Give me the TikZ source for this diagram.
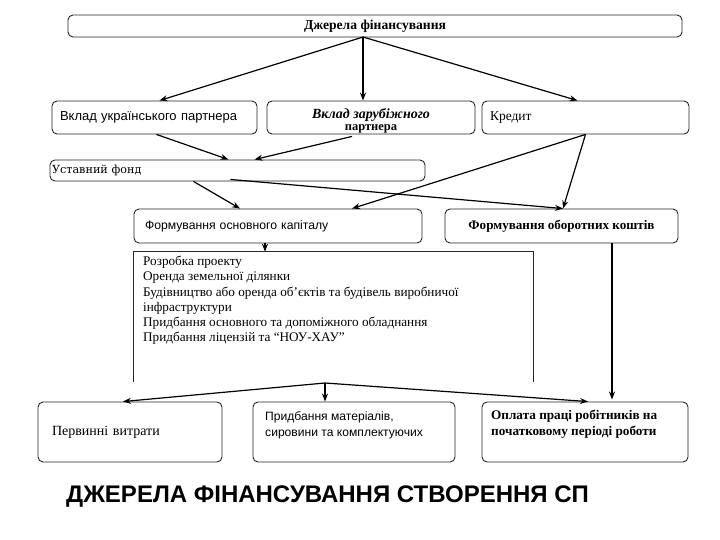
\documentclass[tikz,border=0pt]{standalone}
\usepackage{fontspec}
\setmainfont{Liberation Serif}
\newfontfamily\arialf{Liberation Sans}
\newfontfamily\dvserif{DejaVu Serif}
\usetikzlibrary{arrows.meta,calc}
\begin{document}
\begin{tikzpicture}[x=1pt,y=-1pt,
  box/.style={draw=black!85, line width=0.9pt, rounded corners=5pt, inner sep=0pt},
  arr/.style={draw=black, line width=1.2pt, -{Stealth[length=8pt,width=6pt]}},
  txt/.style={inner sep=0pt, align=left}]
\useasboundingbox (0,0) rectangle (720,540);

% top
\node[box, minimum width=614pt, minimum height=22pt, font=\fontsize{13.6}{15}\selectfont\bfseries] (top) at (375,26) {Джерела фінансування};
\coordinate (t0) at (363,37);

% row 2
\node[box, minimum width=205pt, minimum height=33pt, text width=189pt, align=left, font=\arialf\fontsize{13}{15}\selectfont] (b1) at (154.5,117.5) {Вклад українського партнера};
\node[box, minimum width=208pt, minimum height=33pt] (b2) at (371,117.5) {};
\node[txt, align=center, font=\bfseries] (b2t) at (371,120.5) {\fontsize{14}{15}\selectfont\textit{Вклад зарубіжного}\\\fontsize{12.5}{15}\selectfont партнера};
\node[box, minimum width=207pt, minimum height=33pt, text width=191pt, align=left, font=\fontsize{13.5}{15}\selectfont] (b3) at (585.5,117.5) {Кредит};

% row 3
\node[box, minimum width=375pt, minimum height=21pt, text width=371pt, align=left, font=\dvserif\fontsize{11.2}{13}\selectfont] (ustav) at (237.5,170.5) {Уставний фонд};

% row 4
\node[box, minimum width=288pt, minimum height=34pt, text width=266pt, align=left, font=\arialf\fontsize{12.2}{14}\selectfont] (osn) at (278,226) {Формування основного капіталу};
\node[box, minimum width=233pt, minimum height=34pt, font=\fontsize{13.1}{15}\selectfont\bfseries] (obor) at (561.5,226) {Формування оборотних коштів};

% list box
\node[inner sep=0pt, minimum width=399pt, minimum height=130pt] (lst) at (333.5,317) {};
\draw[line width=0.9pt, draw=black!85] (lst.south west) -- (lst.north west) -- (lst.north east) -- (lst.south east);
\node[txt, anchor=north west, font=\fontsize{13.2}{15.2}\selectfont] (lstt) at (143,256) {Розробка проекту\\
Оренда земельної ділянки\\
Будівництво або оренда об’єктів та будівель виробничої\\
інфраструктури\\
Придбання основного та допоміжного обладнання\\
Придбання ліцензій та “НОУ-ХАУ”};

% bottom row
\node[box, minimum width=184pt, minimum height=60pt, text width=156pt, align=left, font=\fontsize{14}{16}\selectfont] (p1) at (130,432) {Первинні витрати};
\node[box, minimum width=202pt, minimum height=60pt] (p2) at (354,432) {};
\node[txt, anchor=west, font=\arialf\fontsize{12.1}{16}\selectfont] (p2t) at (265,425) {Придбання матеріалів,\\сировини та комплектуючих};
\node[box, minimum width=206pt, minimum height=60pt] (p3) at (585,432) {};
\node[txt, anchor=west, font=\fontsize{13.2}{16}\selectfont\bfseries] (p3t) at (491,424) {Оплата праці робітників на\\початковому періоді роботи};

\coordinate (pk) at (325,383);

% title
\node[inner sep=0pt, anchor=west, font=\arialf\bfseries\fontsize{24}{27}\selectfont] (title) at (66,497) {ДЖЕРЕЛА ФІНАНСУВАННЯ СТВОРЕННЯ СП};

% connectors
\draw[arr] (t0) -- ($(b1.north)+(5,0)$);
\draw[arr] (t0) -- (b2.north -| t0);
\draw[arr] (t0) -- ($(b3.north)+(-8,0)$);

\draw[arr] ($(b1.south)+(2,0)$) -- ($(ustav.north)+(-9,0)$);
\draw[arr] ($(b2.south)+(-19,2)$) -- ($(ustav.north)+(17,0)$);

\draw[arr] (b3.south) -- ($(osn.north)+(74,0)$);
\draw[arr] (b3.south) -- ($(obor.north)+(1.5,0)$);

\draw[arr] ($(ustav.south)+(-44,0)$) -- ($(osn.north)+(-38,0)$);
\draw[arr] ($(ustav.south)+(-7,-2)$) -- ($(obor.north)+(1.5,0)$);

\draw[arr] ($(osn.south)+(-13,0)$) -- (lst.north -| {$(osn.south)+(-13,0)$});

\draw[arr] ($(obor.south)+(50.5,0)$) -- ($(p3.north)+(27,-2)$);

\draw[arr] (pk) -- ($(p1.north)+(-7,0)$);
\draw[arr] (pk) -- (p2.north -| pk);
\draw[arr] (pk) -- ($(p3.north)+(3,0)$);
\end{tikzpicture}
\end{document}
